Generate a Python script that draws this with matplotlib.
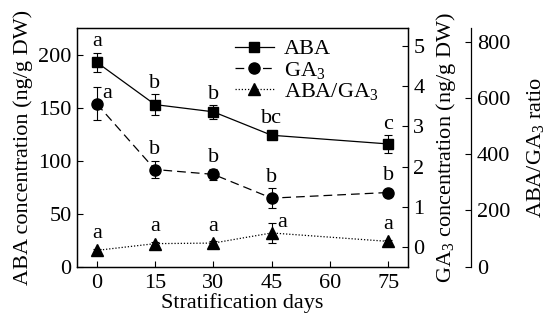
import matplotlib
matplotlib.use("Agg")
import matplotlib.pyplot as plt
import numpy as np

plt.rcParams['font.family'] = ['Liberation Serif', 'DejaVu Serif']
plt.rcParams['mathtext.fontset'] = 'custom'
plt.rcParams['mathtext.rm'] = 'Liberation Serif'
plt.rcParams['mathtext.it'] = 'Liberation Serif'

# ---- data ----
days = [0, 15, 30, 45, 75]
aba = [192.7, 152.8, 146.0, 123.9, 115.7]
aba_err = [9.0, 10.0, 6.6, 2.0, 8.5]
aba_letters = ['a', 'b', 'b', 'bc', 'c']

ga3 = [3.56, 1.93, 1.81, 1.22, 1.36]
ga3_err = [0.41, 0.22, 0.13, 0.25, 0.08]
ga3_letters = ['a', 'b', 'b', 'b', 'b']

ratio = [58, 82, 84, 120, 90]
ratio_err = [4, 6, 6, 34, 6]
ratio_letters = ['a', 'a', 'a', 'a', 'a']

x_ticks = [0, 15, 30, 45, 60, 75]
aba_ticks = [0, 50, 100, 150, 200]
ga3_ticks = [0, 1, 2, 3, 4, 5]
ratio_ticks = [0, 200, 400, 600, 800]

FS = 16
fig = plt.figure(figsize=(5.47, 3.20), dpi=100)
ax = fig.add_axes([0.1413, 0.1666, 0.604, 0.7459])
ax2 = ax.twinx()
ax3 = ax.twinx()
ax3.spines['right'].set_position(('axes', 1.192))
for s in ['top', 'left', 'bottom']:
    ax3.spines[s].set_visible(False)

lw = 0.9
ekw = dict(elinewidth=0.8, capsize=3, capthick=0.8, ecolor='black')
h1 = ax.errorbar(days, aba, yerr=aba_err, color='black', lw=lw, ls='-',
                 marker='s', ms=7.5, **ekw)
h2 = ax2.errorbar(days, ga3, yerr=ga3_err, color='black', lw=lw,
                  ls=(0, (7, 4)), marker='o', ms=8, **ekw)
h3 = ax3.errorbar(days, ratio, yerr=ratio_err, color='black', lw=lw,
                  ls=(0, (1, 1.5)), marker='^', ms=8.5, **ekw)

ax.set_xlim(-5, 80)
ax.set_ylim(0, 225)
ax2.set_ylim(-0.48, 5.44)
ax3.set_ylim(0, 849)

ax.set_xticks(x_ticks)
ax.set_yticks(aba_ticks)
ax2.set_yticks(ga3_ticks)
ax3.set_yticks(ratio_ticks)
for a in (ax, ax2, ax3):
    a.tick_params(direction='in', length=4, width=0.8, labelsize=FS, pad=4)
    for s in a.spines.values():
        s.set_linewidth(0.9)
ax.tick_params(axis='x', pad=5)

ax.set_xlabel('Stratification days', fontsize=FS, labelpad=0)
ax.set_ylabel('ABA concentration (ng/g DW)', fontsize=FS, labelpad=4)
ax2.set_ylabel('GA$_3$ concentration (ng/g DW)', fontsize=FS, labelpad=7)
ax3.set_ylabel('ABA/GA$_3$ ratio', fontsize=FS, labelpad=11)


def put_letters(a, ys, errs, letters, right_idx=()):
    for i, (xv, yv, ev, lt) in enumerate(zip(days, ys, errs, letters)):
        if i in right_idx:
            a.annotate(lt, xy=(xv, yv), xytext=(4, 4), textcoords='offset points',
                       ha='left', va='baseline', fontsize=FS)
        else:
            p_top = a.transData.transform((xv, yv + ev))[1]
            p_c = a.transData.transform((xv, yv))[1]
            d_pts = (p_top - p_c) * 72 / fig.dpi
            off = max(d_pts, 4.5) + 4.5
            a.annotate(lt, xy=(xv, yv), xytext=(0, off), textcoords='offset points',
                       ha='center', va='baseline', fontsize=FS)


put_letters(ax, aba, aba_err, aba_letters)
put_letters(ax2, ga3, ga3_err, ga3_letters, right_idx=(0,))
put_letters(ax3, ratio, ratio_err, ratio_letters, right_idx=(3,))

leg = ax.legend([h1[0], h2[0], h3[0]], ['ABA', 'GA$_3$', 'ABA/GA$_3$'],
                loc='upper left', bbox_to_anchor=(0.43, 1.02), frameon=False,
                fontsize=FS, handlelength=1.75, handletextpad=0.45,
                labelspacing=0.02, borderpad=0.2)

fig.savefig('out.png', dpi=100)
